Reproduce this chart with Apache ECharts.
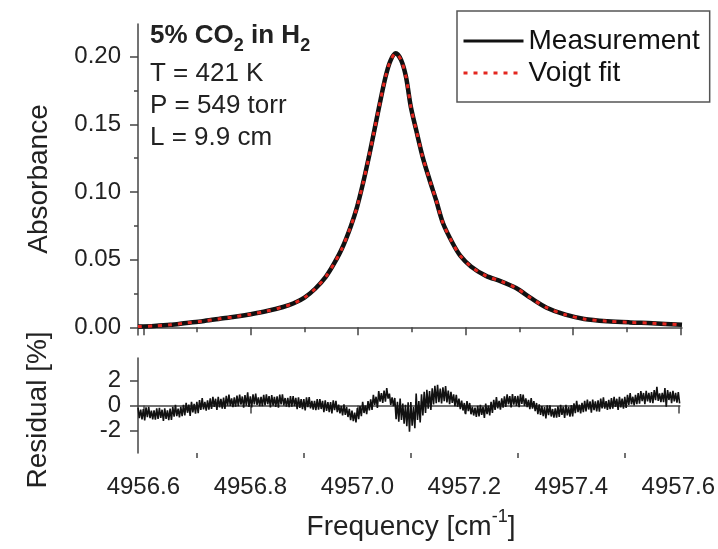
<!DOCTYPE html>
<html>
<head>
<meta charset="utf-8">
<script src="https://cdn.jsdelivr.net/npm/echarts@6/dist/echarts.min.js"></script>
<style>
html,body{margin:0;padding:0;background:#fff;}
#main{width:718px;height:549px;}
</style>
</head>
<body>
<div id="main"></div>
<script>
// frequency grid of the absorbance trace [cm-1]
var absFreq = [4956.590, 4956.620, 4956.650, 4956.680, 4956.710, 4956.740, 4956.770, 4956.800,
	4956.830, 4956.860, 4956.880, 4956.900, 4956.920, 4956.940, 4956.955, 4956.970, 4956.986,
	4956.998, 4957.009, 4957.020, 4957.029, 4957.039, 4957.051, 4957.060, 4957.070, 4957.080,
	4957.089, 4957.098, 4957.108, 4957.120, 4957.133, 4957.145, 4957.158, 4957.176, 4957.190,
	4957.210, 4957.238, 4957.266, 4957.294, 4957.322, 4957.351, 4957.386, 4957.421, 4957.464,
	4957.506, 4957.548, 4957.603];
// measured absorbance
var measured = [0.0005, 0.0010, 0.0018, 0.0032, 0.0045, 0.0062, 0.0078, 0.0097,
	0.0120, 0.0150, 0.0178, 0.0220, 0.0285, 0.0375, 0.0470, 0.0584, 0.0744,
	0.0891, 0.1064, 0.1260, 0.1434, 0.1630, 0.1852, 0.1970, 0.2025, 0.1975,
	0.1852, 0.1630, 0.1458, 0.1260, 0.1089, 0.0941, 0.0769, 0.0621, 0.0530,
	0.0450, 0.0380, 0.0340, 0.0290, 0.0215, 0.0145, 0.0093, 0.0062, 0.0045,
	0.0036, 0.0030, 0.0018];
// voigt fit (lies on top of the measurement)
var voigtFit = [0.0005, 0.0010, 0.0018, 0.0032, 0.0045, 0.0062, 0.0078, 0.0097,
	0.0120, 0.0150, 0.0178, 0.0220, 0.0285, 0.0375, 0.0470, 0.0584, 0.0744,
	0.0891, 0.1064, 0.1260, 0.1434, 0.1630, 0.1852, 0.1970, 0.2025, 0.1975,
	0.1852, 0.1630, 0.1458, 0.1260, 0.1089, 0.0941, 0.0769, 0.0621, 0.0530,
	0.0450, 0.0380, 0.0340, 0.0290, 0.0215, 0.0145, 0.0093, 0.0062, 0.0045,
	0.0036, 0.0030, 0.0018];
// residual [%]: each row = start frequency, then samples every 0.0025 cm-1
var resStep = 0.0025;
var residualRows = [
	[4956.59, -0.17, -1.02, -0.32, -1.12], [4956.60, -0.29, -1.19, -0.14, -0.94],
	[4956.61, -0.11, -1.01, -0.41, -1.11], [4956.62, -0.38, -1.13, -0.23, -1.08],
	[4956.63, -0.19, -0.99, -0.34, -1.24], [4956.64, -0.23, -1.08, -0.38, -1.18],
	[4956.65, -0.25, -1.15, -0.10, -0.90], [4956.66, 0.05, -0.85, -0.25, -0.95],
	[4956.67, -0.10, -0.85, 0.05, -0.80], [4956.68, 0.22, -0.58, 0.07, -0.83],
	[4956.69, 0.29, -0.56, 0.14, -0.66], [4956.70, 0.29, -0.61, 0.44, -0.36],
	[4956.71, 0.59, -0.31, 0.29, -0.41], [4956.72, 0.42, -0.33, 0.57, -0.28],
	[4956.73, 0.69, -0.11, 0.54, -0.36], [4956.74, 0.69, -0.16, 0.54, -0.26],
	[4956.75, 0.63, -0.27, 0.78, -0.02], [4956.76, 0.87, -0.03, 0.57, -0.13],
	[4956.77, 0.65, -0.10, 0.80, -0.05], [4956.78, 0.87, 0.07, 0.72, -0.18],
	[4956.79, 0.83, -0.02, 1.05, -0.12], [4956.80, 0.74, -0.16, 0.89, 0.09],
	[4956.81, 0.95, 0.05, 0.65, -0.05], [4956.82, 0.70, -0.05, 0.85, 0.00],
	[4956.83, 0.90, 0.10, 0.75, -0.15], [4956.84, 0.84, -0.01, 0.69, -0.11],
	[4956.85, 0.73, -0.17, 0.88, 0.08], [4956.86, 0.90, 0.00, 0.60, -0.10],
	[4956.87, 0.61, -0.14, 0.76, -0.09], [4956.88, 0.76, -0.04, 0.61, -0.29],
	[4956.89, 0.66, -0.19, 0.51, -0.29], [4956.90, 0.51, -0.39, 0.66, -0.14],
	[4956.91, 0.67, -0.23, 0.37, -0.33], [4956.92, 0.37, -0.38, 0.52, -0.33],
	[4956.93, 0.52, -0.28, 0.37, -0.53], [4956.94, 0.42, -0.43, 0.27, -0.53],
	[4956.95, 0.27, -0.63, 0.42, -0.38], [4956.96, 0.37, -0.53, 0.07, -0.63],
	[4956.97, -0.05, -0.80, 0.10, -0.75], [4956.98, -0.12, -0.92, -0.27, -1.17],
	[4956.99, -0.41, -1.26, -0.56, -1.36], [4957.00, -0.20, -1.10, -0.05, -0.85],
	[4957.01, 0.30, -0.60, 0.00, -0.70], [4957.02, 0.35, -0.40, 0.50, -0.35],
	[4957.03, 0.85, 0.05, 0.70, -0.20], [4957.04, 1.15, 0.30, 1.00, 0.20],
	[4957.05, 1.20, 0.30, 1.40, 0.55], [4957.06, 0.95, 0.05, 0.65, -0.05],
	[4957.07, 0.60, -1.10, 0.30, -1.30], [4957.08, 0.55, -1.15, 0.15, -1.45],
	[4957.09, 0.05, -1.65, 0.25, -2.10], [4957.10, 0.28, -1.62, -0.12, -1.82],
	[4957.11, 0.95, -1.15, 0.35, -1.35], [4957.12, 0.90, -0.80, 1.10, -0.60],
	[4957.13, 1.25, -0.25, 1.15, -0.35], [4957.14, 1.38, 0.08, 1.58, 0.18],
	[4957.15, 1.66, 0.26, 1.36, 0.16], [4957.16, 1.45, 0.35, 1.55, 0.25],
	[4957.17, 1.20, 0.10, 1.10, 0.20], [4957.18, 0.90, -0.05, 0.85, -0.10],
	[4957.19, 0.55, -0.30, 0.40, -0.40], [4957.20, 0.20, -0.70, 0.35, -0.45],
	[4957.21, 0.20, -0.70, -0.10, -0.80], [4957.22, -0.17, -0.92, -0.02, -0.87],
	[4957.23, 0.05, -0.75, -0.10, -1.00], [4957.24, 0.15, -0.70, 0.00, -0.80],
	[4957.25, 0.30, -0.60, 0.45, -0.35], [4957.26, 0.67, -0.23, 0.37, -0.33],
	[4957.27, 0.58, -0.17, 0.73, -0.12], [4957.28, 0.90, 0.10, 0.75, -0.15],
	[4957.29, 0.91, 0.06, 0.76, -0.04], [4957.30, 0.77, -0.13, 0.92, 0.12],
	[4957.31, 0.87, -0.03, 0.57, -0.13], [4957.32, 0.45, -0.30, 0.60, -0.25],
	[4957.33, 0.35, -0.45, 0.20, -0.70], [4957.34, 0.10, -0.75, -0.05, -0.85],
	[4957.35, -0.13, -1.03, 0.02, -0.78], [4957.36, 0.02, -0.88, -0.28, -0.98],
	[4957.37, -0.22, -0.97, -0.07, -0.92], [4957.38, 0.05, -0.75, -0.10, -1.00],
	[4957.39, 0.05, -0.80, -0.10, -0.90], [4957.40, 0.03, -0.87, 0.18, -0.62],
	[4957.41, 0.37, -0.53, 0.07, -0.63], [4957.42, 0.22, -0.53, 0.37, -0.48],
	[4957.43, 0.48, -0.32, 0.33, -0.57], [4957.44, 0.48, -0.37, 0.33, -0.47],
	[4957.45, 0.41, -0.49, 0.56, -0.24], [4957.46, 0.65, -0.25, 0.35, -0.35],
	[4957.47, 0.45, -0.30, 0.60, -0.25], [4957.48, 0.69, -0.11, 0.54, -0.36],
	[4957.49, 0.70, -0.15, 0.55, -0.25], [4957.50, 0.70, -0.20, 0.85, 0.05],
	[4957.51, 1.00, 0.10, 0.70, 0.00], [4957.52, 0.85, 0.10, 1.00, 0.15],
	[4957.53, 1.15, 0.35, 1.00, 0.10], [4957.54, 1.17, 0.32, 1.02, 0.22],
	[4957.55, 1.08, 0.18, 1.23, 0.43], [4957.56, 1.50, 0.37, 0.97, 0.27],
	[4957.57, 1.02, 0.27, 1.40, -0.10], [4957.58, 1.24, 0.44, 1.09, 0.19],
	[4957.59, 1.17, 0.32, 1.02, 0.22], [4957.60, 1.07, 0.17]
];
// ticks
var xTicks = [4956.6, 4956.8, 4957.0, 4957.2, 4957.4, 4957.6];
var xMinorTicks = [4956.7, 4956.9, 4957.1, 4957.3, 4957.5];
var absTicks = [0, 0.05, 0.10, 0.15, 0.20];
var absMinorTicks = [0.025, 0.075, 0.125, 0.175];
var resTicks = [-2, 0, 2];

var FONT = '"Liberation Sans", Arial, sans-serif';
var INK = '#222';
var AXIS = '#444';

var residual = [];
residualRows.forEach(function (row) {
	for (var k = 1; k < row.length; k++) {
		residual.push([row[0] + (k - 1) * resStep, row[k]]);
	}
});

var chart = echarts.init(document.getElementById('main'));

function xAxisOf(grid, ticks, len, major, labels) {
	return {
		gridIndex: grid, type: 'value', position: 'bottom', offset: 0,
		min: 4956.59, max: 4957.603,
		axisLine: {show: major, lineStyle: {color: AXIS, width: 1.5}},
		axisTick: {show: true, customValues: ticks, length: len, lineStyle: {color: AXIS, width: 1.5}},
		axisLabel: labels ? {
			show: true, customValues: ticks, margin: 22,
			fontSize: 24, fontFamily: FONT, color: INK,
			formatter: function (v) { return v.toFixed(1); }
		} : {show: false},
		splitLine: {show: false}
	};
}

function yAxisOf(grid, min, max, ticks, len, major, labels, digits) {
	return {
		gridIndex: grid, type: 'value', position: 'left', offset: 0,
		min: min, max: max,
		axisLine: {show: major, lineStyle: {color: AXIS, width: 1.5}},
		axisTick: {show: true, customValues: ticks, length: len, lineStyle: {color: AXIS, width: 1.5}},
		axisLabel: labels ? {
			show: true, customValues: ticks, margin: 17,
			fontSize: 24, fontFamily: FONT, color: INK,
			formatter: function (v) { return v.toFixed(digits); }
		} : {show: false},
		splitLine: {show: false}
	};
}

chart.setOption({
	animation: false,
	backgroundColor: '#fff',
	grid: [
		{left: 138, top: 24, width: 544, height: 311},
		{left: 138, top: 358, width: 544, height: 95}
	],
	xAxis: [
		xAxisOf(0, xTicks, 8, true, false),
		xAxisOf(0, xMinorTicks, 5, false, false),
		xAxisOf(1, xTicks, 8, true, true),
		xAxisOf(1, xMinorTicks, 5, false, false)
	],
	yAxis: [
		yAxisOf(0, -0.0057, 0.2242, absTicks, 8, true, true, 2),
		yAxisOf(0, -0.0057, 0.2242, absMinorTicks, 4, false, false, 2),
		yAxisOf(1, -3.8, 3.8, resTicks, 8, true, true, 0)
	],
	legend: {
		orient: 'vertical', left: 457, top: 11,
		padding: [16, 10, 15, 5], itemGap: 4,
		itemWidth: 60, itemHeight: 14,
		borderColor: '#555', borderWidth: 1.5, borderRadius: 0,
		selectedMode: false,
		lineStyle: {width: 3},
		itemStyle: {opacity: 0},
		textStyle: {fontSize: 28, lineHeight: 28, fontFamily: FONT, color: '#111'},
		data: ['Measurement', 'Voigt fit']
	},
	series: [
		{
			name: 'Measurement', type: 'line', xAxisIndex: 0, yAxisIndex: 0,
			data: absFreq.map(function (f, i) { return [f, measured[i]]; }),
			smooth: 0.3, symbol: 'none',
			lineStyle: {color: '#111', width: 4.5},
			itemStyle: {color: '#111'}
		},
		{
			name: 'Voigt fit', type: 'line', xAxisIndex: 0, yAxisIndex: 0,
			data: absFreq.map(function (f, i) { return [f, voigtFit[i]]; }),
			smooth: 0.3, symbol: 'none', z: 3,
			lineStyle: {color: '#e3261f', width: 3, type: [4, 6]},
			itemStyle: {color: '#e3261f'}
		},
		{
			name: 'Residual', type: 'line', xAxisIndex: 2, yAxisIndex: 2,
			data: residual, symbol: 'none',
			lineStyle: {color: '#111', width: 1.6}
		}
	],
	graphic: [
		{type: 'text', x: 150, y: 36, style: {
			text: '5% CO{sub|2} in H{sub|2}', fill: INK, align: 'left', verticalAlign: 'middle',
			font: 'bold 26px ' + FONT,
			rich: {sub: {fontSize: 18, fontWeight: 'bold', fontFamily: FONT, fill: INK, padding: [20, 0, 0, 0]}}
		}},
		{type: 'text', x: 150, y: 74, style: {text: 'T = 421 K', fill: INK, verticalAlign: 'middle', font: '26px ' + FONT}},
		{type: 'text', x: 150, y: 106, style: {text: 'P = 549 torr', fill: INK, verticalAlign: 'middle', font: '26px ' + FONT}},
		{type: 'text', x: 150, y: 137.5, style: {text: 'L = 9.9 cm', fill: INK, verticalAlign: 'middle', font: '26px ' + FONT}},
		{type: 'text', x: 39, y: 179, rotation: Math.PI / 2, style: {
			text: 'Absorbance', fill: INK, align: 'center', verticalAlign: 'middle', font: '28px ' + FONT
		}},
		{type: 'text', x: 38, y: 410, rotation: Math.PI / 2, style: {
			text: 'Residual [%]', fill: INK, align: 'center', verticalAlign: 'middle', font: '28px ' + FONT
		}},
		{type: 'text', x: 411, y: 527, style: {
			text: 'Frequency [cm{sup|-1}]', fill: INK, align: 'center', verticalAlign: 'middle',
			font: '28px ' + FONT,
			rich: {sup: {fontSize: 18, fontFamily: FONT, fill: INK, padding: [0, 0, 20, 0]}}
		}}
	]
});
</script>
</body>
</html>
